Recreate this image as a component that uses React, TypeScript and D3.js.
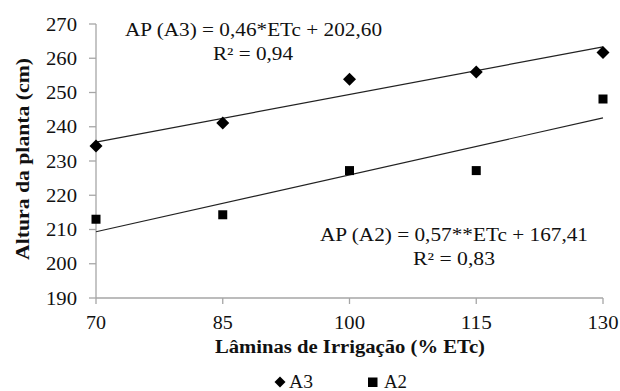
import React from "react";
import * as d3 from "d3";

const laminas = [70, 85, 100, 115, 130];
const alturaA3 = [234.4, 241.1, 253.9, 256.0, 261.7];
const alturaA2 = [213.0, 214.3, 227.2, 227.2, 248.1];
const yTicks = [190, 200, 210, 220, 230, 240, 250, 260, 270];
const xTicks = [70, 85, 100, 115, 130];
const eqA3 = ["AP (A3) = 0,46*ETc + 202,60", "R² = 0,94"];
const eqA2 = ["AP (A2) = 0,57**ETc + 167,41", "R² = 0,83"];
const seriesNames = ["A3", "A2"];

const W = 620, H = 391;
const left = 96, right = 603, top = 24, bottom = 298;
const FONT = "'Liberation Serif', 'Times New Roman', serif";

function fit(xs: number[], ys: number[]) {
  const mx = d3.mean(xs)!, my = d3.mean(ys)!;
  let num = 0, den = 0;
  xs.forEach((x, i) => { num += (x - mx) * (ys[i] - my); den += (x - mx) ** 2; });
  const b = num / den;
  const a = my - b * mx;
  return (x: number) => a + b * x;
}

const T = (props: any) => <text lengthAdjust="spacingAndGlyphs" fill="#111" fontSize={18.5} {...props} />;

export default function App() {
  const x = d3.scaleLinear().domain([70, 130]).range([left, right]);
  const y = d3.scaleLinear().domain([190, 270]).range([bottom, top]);
  const fA3 = fit(laminas, alturaA3);
  const fA2 = fit(laminas, alturaA2);
  const line = d3.line<number[]>().x(d => x(d[0])).y(d => y(d[1]));
  const diamond = (cx: number, cy: number, r: number) => `M${cx},${cy - r}L${cx + r},${cy}L${cx},${cy + r}L${cx - r},${cy}Z`;
  const axisColor = "#a6a6a6";
  return (
    <svg width={W} height={H} style={{ position: "absolute", left: 0, top: 0, background: "#fff" }} fontFamily={FONT}>
      {/* axes */}
      <line x1={left} x2={left} y1={top} y2={bottom} stroke={axisColor} strokeWidth={1.3} />
      <line x1={left} x2={right} y1={bottom} y2={bottom} stroke={axisColor} strokeWidth={1.3} />
      {yTicks.map(t => (
        <g key={"y" + t}>
          <line x1={left - 7} x2={left} y1={y(t)} y2={y(t)} stroke={axisColor} strokeWidth={1.3} />
          <T x={77} y={y(t) + 6.5} textAnchor="end" textLength={31}>{t}</T>
        </g>
      ))}
      {xTicks.map(t => (
        <g key={"x" + t}>
          <line x1={x(t)} x2={x(t)} y1={bottom} y2={bottom + 6} stroke={axisColor} strokeWidth={1.3} />
          <T x={x(t)} y={329} textAnchor="middle" textLength={String(t).length === 2 ? 20 : 31}>{t}</T>
        </g>
      ))}
      {/* trend lines */}
      <path d={line([[70, fA3(70)], [130, fA3(130)]])!} stroke="#222" strokeWidth={1.2} fill="none" />
      <path d={line([[70, fA2(70)], [130, fA2(130)]])!} stroke="#222" strokeWidth={1.2} fill="none" />
      {/* points */}
      {laminas.map((l, i) => (
        <path key={"a3" + i} d={diamond(x(l), y(alturaA3[i]), 6.5)} fill="#000" />
      ))}
      {laminas.map((l, i) => (
        <rect key={"a2" + i} x={x(l) - 4.5} y={y(alturaA2[i]) - 4.5} width={9} height={9} fill="#000" />
      ))}
      {/* equations */}
      <T x={253.5} y={36} textAnchor="middle" textLength={257}>{eqA3[0]}</T>
      <T x={253} y={60} textAnchor="middle" textLength={80}>{eqA3[1]}</T>
      <T x={454} y={241} textAnchor="middle" textLength={268}>{eqA2[0]}</T>
      <T x={454} y={265} textAnchor="middle" textLength={82}>{eqA2[1]}</T>
      {/* axis titles */}
      <T x={350} y={353} textAnchor="middle" fontWeight="bold" textLength={270}>Lâminas de Irrigação (% ETc)</T>
      <T transform={`translate(29,159) rotate(-90)`} textAnchor="middle" fontWeight="bold" textLength={202}>Altura da planta (cm)</T>
      {/* legend */}
      <path d={diamond(280, 382, 5.5)} fill="#000" />
      <T x={289} y={388} textLength={24}>{seriesNames[0]}</T>
      <rect x={368} y={377.5} width={9.5} height={9.5} fill="#000" />
      <T x={384} y={388} textLength={23}>{seriesNames[1]}</T>
    </svg>
  );
}
